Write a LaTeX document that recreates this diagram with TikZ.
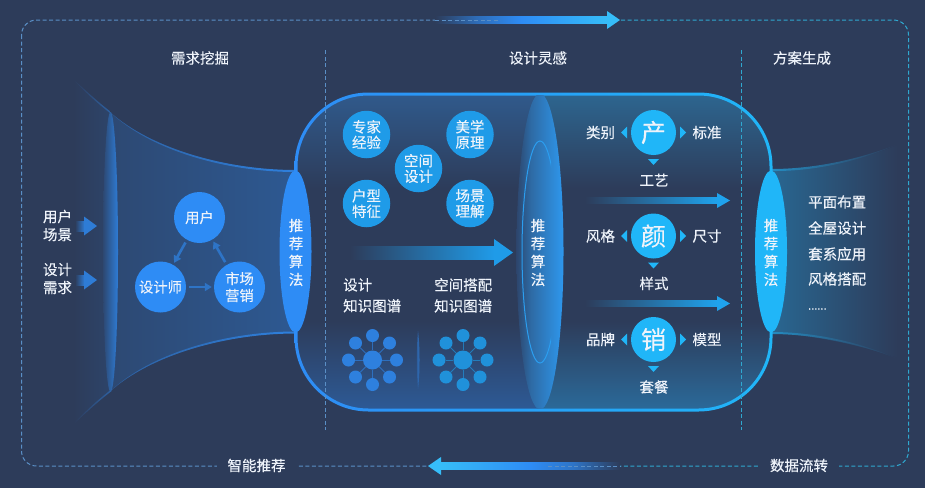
\documentclass[tikz,border=0pt]{standalone}
\usepackage{fontspec}
\setmainfont[FakeBold=0.25]{Noto Sans CJK SC}
\usetikzlibrary{arrows.meta}
\definecolor{bgc}{HTML}{2D3C5A}
\definecolor{txt}{HTML}{EEF3FA}
\definecolor{blueA}{HTML}{2E8CF5}
\definecolor{blueB}{HTML}{1F9BE8}
\definecolor{cyanA}{HTML}{20B6F8}
\definecolor{frameL}{HTML}{5A8FC6}
\definecolor{frameR}{HTML}{2FA8D0}
\definecolor{capTL}{HTML}{305A8C}
\definecolor{capBL}{HTML}{2D5A96}
\definecolor{capTR}{HTML}{2D6690}
\definecolor{capBR}{HTML}{2B6A9A}
\definecolor{midA}{HTML}{2E98EE}
\pgfdeclareverticalshading{capL}{100bp}{color(0bp)=(capBL); color(25bp)=(capBL); color(39bp)=(bgc); color(60bp)=(bgc); color(75bp)=(capTL); color(100bp)=(capTL)}
\pgfdeclareverticalshading{capR}{100bp}{color(0bp)=(capBR); color(25bp)=(capBR); color(39bp)=(bgc); color(60bp)=(bgc); color(75bp)=(capTR); color(100bp)=(capTR)}
\pgfdeclarehorizontalshading{midell}{100bp}{color(0bp)=(bgc); color(25bp)=(bgc!88!blueA); color(40bp)=(bgc!50!midA); color(75bp)=(midA); color(100bp)=(midA)}
\pgfdeclarehorizontalshading{topsh}{100bp}{color(0bp)=(bgc); color(25bp)=(bgc); color(37bp)=(blueA!60!bgc); color(50bp)=(blueA); color(75bp)=(cyanA!90!white); color(100bp)=(cyanA!90!white)}
\pgfdeclarehorizontalshading{botsh}{100bp}{color(0bp)=(cyanA!90!white); color(25bp)=(cyanA!90!white); color(50bp)=(blueA); color(62bp)=(blueA!70!bgc); color(75bp)=(bgc); color(100bp)=(bgc)}
\newcommand{\fs}[1]{\fontsize{#1}{#1}\selectfont}
\tikzset{
  x=1pt,y=-1pt,
  lab/.style={text=txt,inner sep=0pt,align=center,font=\fs{14.5}},
  lablong/.style={lab,font=\fontsize{14.5}{18}\selectfont},
  circB/.style={circle,fill=blueA,text=txt,inner sep=0pt,align=center,font=\fontsize{14.3}{17}\selectfont,minimum size=51pt},
  circM/.style={circle,fill=blueB,text=txt,inner sep=0pt,align=center,font=\fontsize{14.5}{15.5}\selectfont,minimum size=47.5pt},
  circC/.style={circle,fill=cyanA,text=txt,inner sep=0pt,align=center,font=\fs{25},minimum size=45pt},
  link/.style={draw=#1,line width=2.6pt,shorten >=2pt,shorten <=3pt,-{Stealth[length=7pt,width=8pt,inset=0pt]}},
  dashline/.style={line width=1pt,dash pattern=on 4pt off 2.5pt},
}
\newcommand{\rarrow}[7]{% x1 xh x2 y halfshaft halfhead colour
  \shade[left color=bgc,right color=#7] (#1,#4-#5) rectangle (#2+.5,#4+#5);
  \fill[#7] (#2,#4-#6) -- (#3,#4) -- (#2,#4+#6) -- cycle;
}
\begin{document}
\begin{tikzpicture}
\useasboundingbox (0,0) rectangle (925,488);
\fill[bgc] (0,0) rectangle (925,488);
% frame
\begin{scope}
\clip (0,0) rectangle (470,488);
\draw[frameL,dashline,rounded corners=15pt] (21.5,20) rectangle (908.5,466);
\end{scope}
\begin{scope}
\clip (470,0) rectangle (925,488);
\draw[frameR,dashline,rounded corners=15pt] (21.5,20) rectangle (908.5,466);
\end{scope}
% left funnel
\shade[left color=bgc,right color=bgc!90!blueA] (73,79) .. controls (85,90) and (98,102) .. (110,112) -- (110,391.5) .. controls (98,401.5) and (85,413.5) .. (73,424.5) -- cycle;
\shade[left color=bgc!84!blueA,right color=bgc!64!blueA] (110,112) .. controls (150,148) and (225,170) .. (296,171) -- (296,332.5) .. controls (225,333.5) and (150,355.5) .. (110,391.5) -- cycle;
\shade[left color=bgc,right color=bgc!55!blueA] (72,78) .. controls (85,90) and (98,102) .. (110,111.2) -- (110,113) .. controls (97,103) and (84,91) .. (72,78) -- cycle;
\shade[left color=bgc,right color=bgc!55!blueA] (72,425.5) .. controls (85,413.5) and (98,401.5) .. (110,392.3) -- (110,390.5) .. controls (97,400.5) and (84,412.5) .. (72,425.5) -- cycle;
\shade[left color=bgc!55!blueA,right color=blueA!85!bgc] (110,112) .. controls (150,148) and (225,170) .. (296,170) -- (296,172) .. controls (225,172) and (150,150) .. (110,112) -- cycle;
\shade[left color=bgc!55!blueA,right color=blueA!85!bgc] (110,391.5) .. controls (150,355.5) and (225,333.5) .. (296,333.5) -- (296,331.5) .. controls (225,331.5) and (150,353.5) .. (110,391.5) -- cycle;
\shade[left color=bgc!85!blueA,right color=blueA!80!bgc] (110.5,252) ellipse[x radius=7.5,y radius=140];
% right funnel
\shade[left color=bgc!65!cyanA,right color=bgc] (771,170) .. controls (815,170) and (860,160) .. (898,145) -- (898,358) .. controls (860,345) and (815,335) .. (771,333) -- cycle;
\shade[left color=bgc!35!cyanA,right color=bgc] (771,169) .. controls (815,169) and (860,159) .. (898,144) .. controls (860,161) and (815,171.5) .. (771,171) -- cycle;
\shade[left color=bgc!35!cyanA,right color=bgc] (771,334) .. controls (815,334) and (860,344) .. (898,359) .. controls (860,342) and (815,332) .. (771,332) -- cycle;
% capsule interior
\begin{scope}
\clip[rounded corners=74pt] (295,93) rectangle (772,410);
\shade[shading=capL] (295,93) rectangle (540,410);
\shade[shading=capR] (540,93) rectangle (772,410);
\end{scope}
% capsule outline
\shade[left color=blueA,right color=cyanA,even odd rule,rounded corners=74pt] (294.5,92.5) rectangle (772.5,411.5) [rounded corners=71pt] (297.5,95.5) rectangle (769.5,408.5);
% middle ellipse
\begin{scope}
\clip (500,95.5) rectangle (600,408.5);
\shade[shading=midell] (540,251.5) ellipse[x radius=23.5,y radius=158];
\clip (500,90) rectangle (551,415);
\draw[midA!80!cyanA,line width=1pt] (540,252) ellipse[x radius=18,y radius=111];
\end{scope}
% end ellipses
\fill[blueA] (295.5,251.5) ellipse[x radius=16,y radius=81];
\fill[cyanA] (771,251.5) ellipse[x radius=16,y radius=81];
% separators
\draw[frameL,dashline] (325.5,50) -- (325.5,430);
\draw[frameR,dashline] (741,50) -- (741,430);
% top and bottom arrows
\shade[shading=topsh] (435,16.5) rectangle (607.5,23.5);
\fill[cyanA!90!white] (607,11) -- (620,20) -- (607,29) -- cycle;
\draw[frameL,dashline] (435,20) -- (500,20);
\shade[shading=botsh] (440.5,462.5) rectangle (620,469.5);
\fill[cyanA!90!white] (441,457) -- (428,466) -- (441,475) -- cycle;
\draw[frameL,dashline] (548,466) -- (620,466);
% titles
\node[lab] (t1) at (200,58) {需求挖掘};
\node[lab] (t2) at (538,58) {设计灵感};
\node[lab] (t3) at (802,58) {方案生成};
\node[lab,fill=bgc,inner xsep=11pt,inner ysep=2pt] (b1) at (256.5,465.5) {智能推荐};
\node[lab,fill=bgc,inner xsep=11pt,inner ysep=2pt] (b2) at (799,465.5) {数据流转};
% left inputs
\node[lablong] (in1) at (57.5,225.5) {用户\\场景};
\node[lablong] (in2) at (57.5,278.5) {设计\\需求};
\rarrow{75}{84}{97}{226}{5}{9.5}{blueA!80!bgc}
\rarrow{75}{84}{97}{280}{5}{9.5}{blueA!80!bgc}
% triangle of nodes
\node[circB] (user) at (199.5,217.5) {用户};
\node[circB] (des) at (160.5,287) {设计师};
\node[circB] (mkt) at (239.5,287) {市场\\营销};
\draw[link=blueA!70!bgc] (user) -- (des);
\draw[link=blueA!70!bgc] (des) -- (mkt);
\draw[link=blueA!70!bgc] (mkt) -- (user);
% vertical labels
\node[lablong] (a1) at (296,252.5) {推\\荐\\算\\法};
\node[lablong] (a2) at (538,252.5) {推\\荐\\算\\法};
\node[lablong] (a3) at (771,252.5) {推\\荐\\算\\法};
% middle circles
\node[circM] (m1) at (366.5,134.5) {专家\\经验};
\node[circM] (m2) at (470,134.5) {美学\\原理};
\node[circM] (m3) at (418.5,168.5) {空间\\设计};
\node[circM] (m4) at (366.5,203.5) {户型\\特征};
\node[circM] (m5) at (470,203.5) {场景\\理解};
\rarrow{350}{494}{513}{252.5}{6.5}{13.5}{blueB}
% knowledge graphs
\node[lablong,anchor=north west,font=\fontsize{14.5}{21}\selectfont,align=left] (k1) at (343,278) {设计\\知识图谱};
\node[lablong,anchor=north west,font=\fontsize{14.5}{21}\selectfont,align=left] (k2) at (434,278) {空间搭配\\知识图谱};
\foreach \cx/\nm/\cc in {372.5/ga/{blueA!85!bgc},463/gb/{blueB!90!bgc}}{
  \node[circle,fill=\cc,minimum size=19pt,inner sep=0pt] (\nm c) at (\cx,360) {};
  \foreach \dx/\dy/\i in {0/-24.5/1,17/-17/2,24/0/3,17/17/4,0/24.5/5,-17/17/6,-24/0/7,-17/-17/8}{
    \node[circle,fill=\cc,minimum size=13pt,inner sep=0pt] (\nm\i) at (\cx+\dx,360+\dy) {};
    \draw[\cc,line width=.8pt,opacity=.7] (\nm c) -- (\nm\i);
  }
}
\shade[left color=bgc!60!blueA,right color=blueA!70!bgc] (418,331) .. controls (420,345) and (420,375) .. (418,389) .. controls (416.5,375) and (416.5,345) .. (418,331) -- cycle;
% right circles
\foreach \nm/\cy/\ch/\l/\r/\b in {p/132.5/产/类别/标准/工艺,q/236/颜/风格/尺寸/样式,s/339.5/销/品牌/模型/套餐}{
  \node[circC] (\nm c) at (653.5,\cy) {\ch};
  \node[lab] (\nm l) at (600.5,\cy) {\l};
  \node[lab] (\nm r) at (707,\cy) {\r};
  \node[lab] (\nm b) at (654,\cy+47.5) {\b};
  \fill[cyanA] (627,\cy-6) -- (621,\cy) -- (627,\cy+6) -- cycle;
  \fill[cyanA] (680,\cy-6) -- (686,\cy) -- (680,\cy+6) -- cycle;
  \fill[cyanA] (648,\cy+26.5) -- (659,\cy+26.5) -- (653.5,\cy+32.5) -- cycle;
}
\rarrow{585}{717}{730}{200.5}{3}{7.5}{blueB!70!cyanA}
\rarrow{585}{717}{730}{303.5}{3}{7.5}{blueB!70!cyanA}
% list
\node[lab,anchor=west] (r1) at (808,202) {平面布置};
\node[lab,anchor=west] (r2) at (808,228) {全屋设计};
\node[lab,anchor=west] (r3) at (808,254) {套系应用};
\node[lab,anchor=west] (r4) at (808,279) {风格搭配};
\node[lab,anchor=west,font=\fs{11}] (r5) at (808,309) {......};
\end{tikzpicture}
\end{document}
